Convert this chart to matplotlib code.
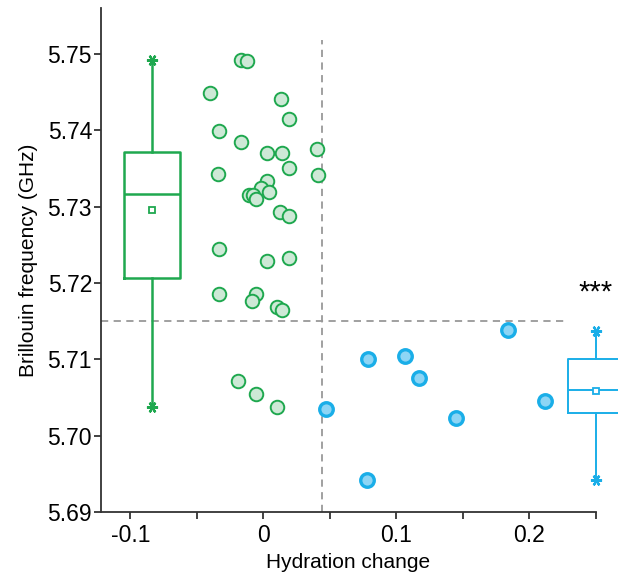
import matplotlib.pyplot as plt
import numpy as np

plt.rcParams['font.family'] = ['Liberation Sans', 'DejaVu Sans']

# control group (green)
ctrl_x = [-0.0171, -0.0123, -0.0399, 0.0136, 0.0194, -0.0332, -0.0166, 0.0030,
          0.0138, 0.0402, 0.0194, -0.0344, 0.0414, 0.0030, -0.0015, 0.0043,
          -0.0108, -0.0081, -0.0053, 0.0123, 0.0194, -0.0332, 0.0030, 0.0191,
          -0.0332, -0.0053, -0.0083, 0.0100, 0.0141, -0.0191, -0.0053, 0.0100]
ctrl_y = [5.7492, 5.7490, 5.7449, 5.7441, 5.7415, 5.7399, 5.7384, 5.7370,
          5.7370, 5.7375, 5.7351, 5.7343, 5.7341, 5.7334, 5.7324, 5.7319,
          5.7315, 5.7315, 5.7310, 5.7293, 5.7288, 5.7245, 5.7229, 5.7233,
          5.7186, 5.7186, 5.7176, 5.7169, 5.7164, 5.7071, 5.7054, 5.7037]

# treated group (blue)
trt_x = [0.0470, 0.0789, 0.0776, 0.1068, 0.1173, 0.1449, 0.1839, 0.2118]
trt_y = [5.7035, 5.7100, 5.6942, 5.7104, 5.7076, 5.7023, 5.7138, 5.7045]

# box summaries: whislo, q1, med, mean, q3, whishi
ctrl_box = [5.7037, 5.7207, 5.7317, 5.7296, 5.7372, 5.7492]
trt_box = [5.6942, 5.7030, 5.7060, 5.7058, 5.7101, 5.7137]
box_pos = [-0.084, 0.25]

thresh_x = 0.0442
thresh_y = 5.7150

green = '#1fa84f'
green_fill = '#cde9d6'
blue = '#1aaee8'
blue_fill = '#8dd5f5'

fig = plt.figure(figsize=(6.18, 5.81), dpi=100)
ax = fig.add_axes([101/618, 1-512/581, 495/618, 504/581])

ax.plot([-0.122, 0.229], [thresh_y, thresh_y], ls=(0, (4, 3)), color='#999999', lw=1.3, zorder=1)
ax.plot([thresh_x, thresh_x], [5.69, 5.7518], ls=(0, (4, 3)), color='#999999', lw=1.3, zorder=1)

ax.scatter(ctrl_x, ctrl_y, s=95, facecolor=green_fill, edgecolor=green, linewidth=1.4, zorder=3)
ax.scatter(trt_x, trt_y, s=95, facecolor=blue_fill, edgecolor=blue, linewidth=2.4, zorder=3)

for b, pos, col, lw in [(ctrl_box, box_pos[0], green, 1.8), (trt_box, box_pos[1], blue, 1.4)]:
    st = [dict(whislo=b[0], q1=b[1], med=b[2], mean=b[3], q3=b[4], whishi=b[5], fliers=[])]
    art = ax.bxp(st, positions=[pos], widths=0.042, showmeans=True, showcaps=False,
                 manage_ticks=False,
                 boxprops=dict(color=col, lw=lw), whiskerprops=dict(color=col, lw=lw),
                 medianprops=dict(color=col, lw=lw),
                 meanprops=dict(marker='s', markerfacecolor='white', markeredgecolor=col,
                                markersize=5, markeredgewidth=1.3))
    ax.plot([pos, pos], [b[0], b[5]], ls='none', marker=(6, 2, 90), color=col,
            markersize=8, mew=1.6, clip_on=False, zorder=4)
    for k in art:
        for a in art[k]:
            a.set_clip_on(False)

ax.text(0.2494, 5.7187, '***', ha='center', va='center', fontsize=21)

ax.set_xlim(-0.122, 0.25)
ax.set_ylim(5.69, 5.756)
ax.set_xticks(np.arange(-0.1, 0.26, 0.05))
ax.set_xticklabels(['-0.1', '', '0', '', '0.1', '', '0.2', ''])
ax.set_yticks([5.69, 5.70, 5.71, 5.72, 5.73, 5.74, 5.75])
ax.set_yticklabels(['5.69', '5.70', '5.71', '5.72', '5.73', '5.74', '5.75'])
ax.tick_params(labelsize=16.5, length=5, width=1.3, color='#333333')
ax.tick_params(axis='x', pad=4)
ax.tick_params(axis='y', pad=1.5)
ax.spines['top'].set_visible(False)
ax.spines['right'].set_visible(False)
for s in ['left', 'bottom']:
    ax.spines[s].set_linewidth(1.3)
    ax.spines[s].set_color('#333333')
ax.set_xlabel('Hydration change', fontsize=15, labelpad=4)
ax.set_ylabel('Brillouin frequency (GHz)', fontsize=15, labelpad=7)

plt.savefig('out.png', dpi=100)
